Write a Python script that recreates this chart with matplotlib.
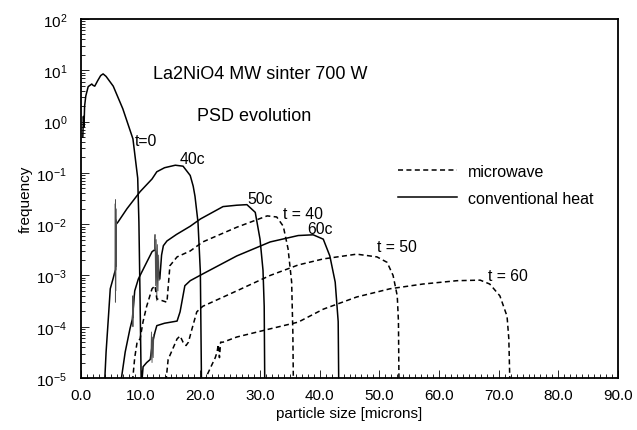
import math
import matplotlib
matplotlib.use('Agg')
import matplotlib.pyplot as plt
from matplotlib.ticker import FixedLocator, FuncFormatter, LogLocator, NullFormatter

plt.rcParams['font.family'] = ['Liberation Sans', 'DejaVu Sans']
plt.rcParams['axes.unicode_minus'] = False

# conventional heat (solid)
x_t0 = [0.3, 0.4, 0.5, 0.6, 0.8, 1.2, 1.8, 2.0, 2.3, 2.8, 3.3, 3.7, 4.2, 5.4, 7.0,
        8.7, 9.5, 9.7, 9.9, 10.1]
y_t0 = [0.50, 1.26, 0.79, 2.0, 3.16, 4.8, 5.4, 5.1, 4.9, 6.3, 7.9, 8.5, 7.6, 4.9, 1.78,
        0.46, 0.079, 0.011, 3.2e-4, 6e-6]

x_40c = [3.9, 4.2, 4.6, 4.9, 5.4, 5.6, 5.8, 5.9, 6.2, 7.7, 9.9, 11.9, 12.7, 14.0,
         15.8, 17.1, 18.3, 18.8, 19.1, 19.6, 20.0, 20.2]
y_40c = [6e-6, 3.2e-5, 1.6e-4, 5.5e-4, 8.9e-4, 1.1e-3, 1.3e-3, 0.01, 0.011, 0.02,
         0.043, 0.076, 0.105, 0.126, 0.141, 0.135, 0.089, 0.055, 0.035, 0.011,
         1.17e-3, 6e-6]

x_50c = [6.5, 7.4, 8.2, 8.6, 9.0, 9.6, 9.9, 11.0, 11.9, 12.4, 12.7, 13.0, 13.2,
         13.5, 13.8, 14.4, 16.0, 18.3, 20.0, 23.8, 26.1, 27.8, 29.2, 30.0, 30.5,
         30.7, 30.8]
y_50c = [6e-6, 3.2e-5, 9.1e-5, 1.4e-4, 5e-4, 8.5e-4, 1e-3, 1.8e-3, 2.9e-3, 3.2e-3,
         2.5e-3, 1.2e-3, 8.5e-4, 2.5e-3, 3.8e-3, 4.7e-3, 6.3e-3, 9.1e-3, 0.0126,
         0.022, 0.0234, 0.024, 0.017, 5.1e-3, 1.26e-3, 2.5e-4, 6e-6]

x_60c = [10.1, 10.4, 11.0, 11.6, 12.0, 12.4, 12.7, 14.0, 16.1, 16.6, 17.4, 18.3,
         20.4, 26.1, 31.7, 36.4, 38.9, 40.6, 41.7, 42.6, 43.1, 43.2]
y_60c = [6e-6, 1.66e-5, 2e-5, 2.3e-5, 5e-5, 7.9e-5, 1.05e-4, 1.17e-4, 1.29e-4,
         1.95e-4, 6.3e-4, 7.9e-4, 1.07e-3, 2.4e-3, 4.5e-3, 6.0e-3, 6.2e-3, 5.1e-3,
         2.4e-3, 7.4e-4, 1.26e-4, 6e-6]

# noisy bursts on the conventional curves
x_sp40 = [5.70, 5.73, 5.76, 5.79, 5.82, 5.85, 5.88, 5.91, 5.94]
y_sp40 = [1e-3, 0.025, 3e-4, 0.03, 5e-4, 0.02, 1.5e-3, 0.012, 6e-3]
x_sp50a = [8.6, 8.65, 8.7, 8.75, 8.8, 8.85]
y_sp50a = [1.4e-4, 4e-4, 1e-4, 3.2e-4, 1.5e-4, 4e-4]
x_sp50b = [12.3, 12.4, 12.5, 12.6, 12.7, 12.8, 12.9, 13.0, 13.1]
y_sp50b = [3.2e-3, 6.3e-3, 6.3e-4, 5e-3, 3.2e-4, 4e-3, 5e-4, 2.5e-3, 8e-4]
x_sp60 = [11.7, 11.8, 11.9, 12.0, 12.1, 12.2]
y_sp60 = [2.3e-5, 7.9e-5, 2e-5, 6.3e-5, 2.5e-5, 7.1e-5]

# microwave (dashed)
x_t40 = [8.5, 9.0, 9.4, 9.9, 10.4, 11.0, 11.9, 12.4, 12.7, 14.4, 14.9, 16.1, 18.3,
         20.4, 26.1, 31.2, 32.8, 33.9, 34.7, 35.3, 35.5, 35.6]
y_t40 = [6e-6, 2.5e-5, 5e-5, 5.8e-5, 1.26e-4, 2.5e-4, 5.5e-4, 6.3e-4, 3.5e-4, 3.0e-4,
         1.55e-3, 2.3e-3, 3.0e-3, 4.5e-3, 8.7e-3, 0.0145, 0.0138, 9.1e-3, 3.3e-3,
         7.4e-4, 7.9e-5, 6e-6]

x_t50 = [14.1, 14.6, 16.1, 16.6, 17.1, 17.6, 18.0, 18.6, 19.4, 20.4, 26.1, 31.7,
         36.4, 40.6, 46.2, 49.6, 51.3, 52.3, 53.0, 53.2, 53.3]
y_t50 = [6e-6, 2.3e-5, 5.8e-5, 6.6e-5, 5e-5, 4.3e-5, 5e-5, 9.1e-5, 1.95e-4, 2.5e-4,
         5e-4, 1e-3, 1.6e-3, 2.1e-3, 2.6e-3, 2.3e-3, 1.8e-3, 1e-3, 4e-4, 1.26e-4, 6e-6]

x_t60 = [20.0, 21.6, 22.5, 22.8, 23.0, 23.2, 23.4, 23.8, 26.1, 31.7, 36.4, 40.6,
         46.2, 51.8, 57.3, 63.0, 66.9, 68.5, 70.2, 71.4, 71.7, 71.9]
y_t60 = [6e-6, 1.5e-5, 2.5e-5, 3.2e-5, 4.5e-5, 2.5e-5, 5e-5, 5e-5, 6.3e-5, 9.1e-5,
         1.23e-4, 2.2e-4, 3.8e-4, 5.5e-4, 6.8e-4, 7.9e-4, 8.1e-4, 6.8e-4, 4e-4,
         1.6e-4, 5.8e-5, 6e-6]

xticks = [0, 10, 20, 30, 40, 50, 60, 70, 80, 90]

curve_labels = [('t=0', 9.05, 0.42), ('40c', 16.6, 0.187), ('50c', 27.8, 0.031),
                ('t = 40', 33.85, 0.0158), ('60c', 37.9, 0.0081),
                ('t = 50', 49.6, 0.0036), ('t = 60', 68.2, 0.00102)]

fig = plt.figure(figsize=(6.37, 4.31), dpi=100)
ax = fig.add_axes([0.1272, 0.1206, 0.843, 0.833])

lw = 1.1
dash = (3.3, 2.2)
for x, y in [(x_t0, y_t0), (x_40c, y_40c), (x_50c, y_50c), (x_60c, y_60c)]:
    ax.plot(x, y, color='black', lw=lw)
for x, y in [(x_sp40, y_sp40), (x_sp50a, y_sp50a), (x_sp50b, y_sp50b), (x_sp60, y_sp60)]:
    ax.plot(x, y, color='0.3', lw=0.6)
for x, y in [(x_t40, y_t40), (x_t50, y_t50), (x_t60, y_t60)]:
    ax.plot(x, y, color='black', lw=lw, dashes=dash)

ax.set_yscale('log')
ax.set_xlim(0, 90)
ax.set_ylim(1e-5, 1e2)

ax.xaxis.set_major_locator(FixedLocator(xticks))
ax.xaxis.set_minor_locator(FixedLocator(range(0, 91)))
ax.xaxis.set_major_formatter(FuncFormatter(lambda v, p: '%.1f' % v))
ax.yaxis.set_major_locator(LogLocator(base=10, numticks=10))
ax.yaxis.set_minor_locator(LogLocator(base=10, subs=range(2, 10), numticks=20))
ax.yaxis.set_minor_formatter(NullFormatter())
ax.yaxis.set_major_formatter(
    FuncFormatter(lambda v, p: r'$\mathregular{10^{%d}}$' % round(math.log10(v))))

ax.tick_params(which='both', direction='in', top=False, right=False, width=0.6)
ax.tick_params(which='major', length=6)
ax.tick_params(which='minor', length=3)
ax.tick_params(axis='x', labelsize=11, pad=7)
ax.tick_params(axis='y', labelsize=11, pad=10)
for s in ax.spines.values():
    s.set_linewidth(1.3)

ax.set_xlabel('particle size [microns]', fontsize=11, labelpad=3)
ax.set_ylabel('frequency', fontsize=11)
ax.yaxis.set_label_coords(-0.09, 0.5)

ax.text(12.07, 8.5, 'La2NiO4 MW sinter 700 W', fontsize=13, va='center')
ax.text(19.44, 1.29, 'PSD evolution', fontsize=13, va='center')
for txt, x, y in curve_labels:
    ax.text(x, y, txt, fontsize=11.3, va='center')

handles = [plt.Line2D([], [], color='black', lw=lw, dashes=dash),
           plt.Line2D([], [], color='black', lw=lw)]
fig.legend(handles, ['microwave', 'conventional heat'], loc='upper left',
           bbox_to_anchor=(398 / 637, 1 - 165 / 431), frameon=False, fontsize=11.5,
           handlelength=3.7, handletextpad=0.7, labelspacing=0.75,
           borderpad=0, borderaxespad=0)

fig.savefig('out.png', dpi=100)
